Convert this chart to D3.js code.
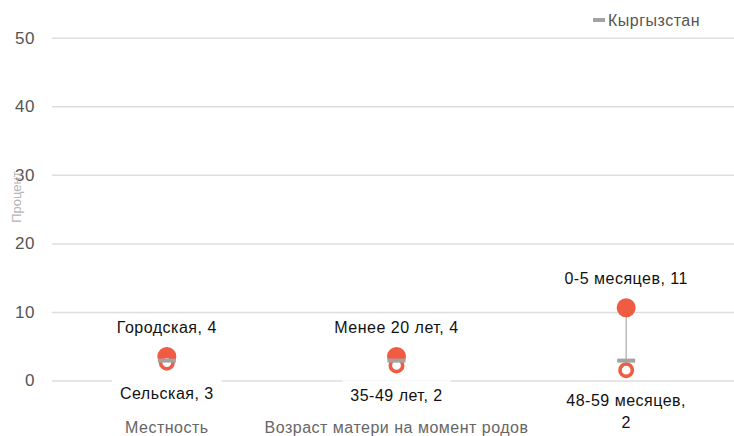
<!DOCTYPE html>
<html><head><meta charset="utf-8">
<script src="https://cdn.jsdelivr.net/npm/d3@7"></script>
<style>body{margin:0;background:#fff}svg{display:block;font-family:"Liberation Sans",Arial,sans-serif}</style>
</head><body><svg id="c" width="734" height="436"></svg>
<script>
const categories = ["Местность", "Возраст матери на момент родов", "Возраст ребенка"];
const highNames = ["Городская", "Менее 20 лет", "0-5 месяцев"];
const highValues = [3.5, 3.5, 10.6];
const lowNames = ["Сельская", "35-49 лет", "48-59 месяцев"];
const lowValues = [2.6, 2.2, 1.5];
const nationalName = "Кыргызстан";
const nationalValues = [2.9, 2.9, 2.9];
const yTicks = [0, 10, 20, 30, 40, 50];

const svg = d3.select("#c");
const W = 734, H = 436;
const m = {left: 52, right: -7, top: 37.7, bottom: 55.5};
const x = d3.scaleBand().domain(categories).range([m.left, W - m.right]);
const y = d3.scaleLinear().domain([0, 50]).range([H - m.bottom, m.top]);
const red = "#f05b43", grey = "#a3a3a3";

// gridlines
const yAxis = svg.append("g").attr("transform", `translate(${m.left},0)`)
  .call(d3.axisLeft(y).tickValues(yTicks).tickSize(-(W - m.right - m.left)).tickPadding(17));
yAxis.select(".domain").remove();
yAxis.selectAll(".tick line").attr("stroke", "#dedede").attr("stroke-width", 1.5);
yAxis.selectAll(".tick text").attr("fill", "#555").style("font-size", "17px").style("letter-spacing", "0.5px");

svg.append("text").attr("transform", `translate(21,197) rotate(-90)`)
  .attr("text-anchor", "middle").attr("fill", "#b5b5b5").style("font-size", "13px").text("Процент");

// category labels
const xAxis = svg.append("g").attr("transform", `translate(0,${H - m.bottom})`)
  .call(d3.axisBottom(x).tickSize(0).tickPadding(41));
xAxis.select(".domain").remove();
xAxis.selectAll(".tick text").attr("fill", "#666").style("font-size", "16px").style("letter-spacing", "0.5px");

const data = categories.map((c, i) => ({c, hn: highNames[i], hv: highValues[i], ln: lowNames[i], lv: lowValues[i], nv: nationalValues[i]}));
const g = svg.selectAll("g.grp").data(data).join("g").attr("class", "grp")
  .attr("transform", d => `translate(${x(d.c) + x.bandwidth() / 2},0)`);

g.append("line").attr("y1", d => y(d.hv)).attr("y2", d => y(d.lv)).attr("stroke", "#aaa").attr("stroke-width", 1.2);
g.append("circle").attr("cy", d => y(d.hv)).attr("r", 9.5).attr("fill", red);
g.append("circle").attr("cy", d => y(d.lv)).attr("r", 6.2).attr("fill", "#fff").attr("stroke", red).attr("stroke-width", 3.6);
g.append("rect").attr("x", -9).attr("width", 18).attr("y", d => y(d.nv) - 2).attr("height", 4).attr("fill", grey);

// top labels
g.append("text").attr("y", d => y(d.hv) - 24).attr("text-anchor", "middle").attr("fill", "#111")
  .style("font-size", "16px").style("letter-spacing", "0.5px").text(d => `${d.hn}, ${Math.round(d.hv)}`);

// bottom labels with white background, wrapping long ones
g.each(function(d) {
  const sel = d3.select(this);
  const full = `${d.ln}, ${Math.round(d.lv)}`;
  const lines = full.length > 15 ? [`${d.ln},`, `${Math.round(d.lv)}`] : [full];
  const bg = sel.append("rect").attr("fill", "#fff");
  const t = sel.append("text").attr("text-anchor", "middle").attr("fill", "#111")
    .style("font-size", "16px").style("letter-spacing", "0.5px");
  const y0 = y(d.lv) + 36;
  lines.forEach((l, k) => t.append("tspan").attr("x", 0).attr("y", y0 + k * 21.5).text(l));
  const bb = t.node().getBBox();
  bg.attr("x", bb.x - 8).attr("y", bb.y - 7).attr("width", bb.width + 16).attr("height", bb.height + 14);
});

// legend
svg.append("rect").attr("x", 593).attr("y", 18).attr("width", 12).attr("height", 4).attr("fill", grey);
svg.append("text").attr("x", 608).attr("y", 25.5).attr("fill", "#555").style("font-size", "16px")
  .style("letter-spacing", "0.5px").text(nationalName);
</script></body></html>
